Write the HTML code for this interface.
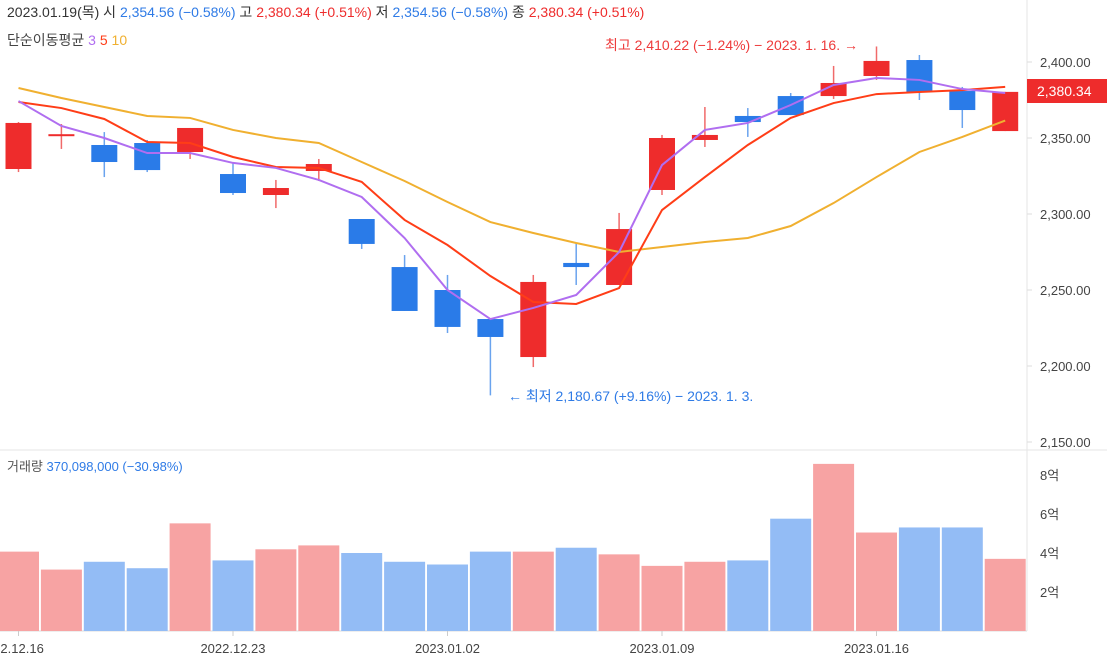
<!DOCTYPE html>
<html><head><meta charset="utf-8"><style>
body{margin:0;background:#fff;width:1107px;height:661px;overflow:hidden;font-family:"Liberation Sans","Noto Sans CJK KR",sans-serif}
svg text{font-family:"Liberation Sans","Noto Sans CJK KR",sans-serif}
</style></head><body>
<svg id="chart" width="1107" height="661" xmlns="http://www.w3.org/2000/svg">
<g id="header">
<text x="7" y="17" font-size="14" fill="#333">2023.01.19(목)  시 <tspan fill="#2f7be6">2,354.56 (−0.58%)</tspan> 고 <tspan fill="#ee2c2c">2,380.34 (+0.51%)</tspan> 저 <tspan fill="#2f7be6">2,354.56 (−0.58%)</tspan> 종 <tspan fill="#ee2c2c">2,380.34 (+0.51%)</tspan></text>
<text x="7" y="45" font-size="14" fill="#444">단순이동평균 <tspan fill="#b06ef0">3</tspan> <tspan fill="#ff3d17">5</tspan> <tspan fill="#f0b030">10</tspan></text>
<text x="7" y="471" font-size="13" fill="#555">거래량 <tspan fill="#2f7be6">370,098,000 (−30.98%)</tspan></text>
</g>
<line x1="1027" y1="0" x2="1027" y2="631" stroke="#e6e6e6"/>
<line x1="0" y1="450" x2="1107" y2="450" stroke="#e6e6e6"/>
<line x1="0" y1="631" x2="1027" y2="631" stroke="#ddd"/>
<g id="vol"></g><g id="candles"></g><g id="mas"></g><g id="axes"></g>
<text x="858" y="50" font-size="14" fill="#ee3b3b" text-anchor="end">최고 2,410.22 (−1.24%) − 2023. 1. 16. →</text>
<text x="508" y="401" font-size="14" fill="#2f7be6">← 최저 2,180.67 (+9.16%) − 2023. 1. 3.</text>
<rect x="1027" y="79" width="80" height="24" fill="#ee2c2c"/>
<text x="1037" y="96" font-size="14" fill="#fff">2,380.34</text>
</svg>
<script>
const opens=[2329.6,2352,2345.4,2346.7,2340.8,2326.3,2312.5,2328.3,2296.7,2265.1,2250,2230.9,2205.9,2267.8,2253.3,2315.8,2348.7,2364.5,2377.6,2377.6,2390.8,2401.3,2380.9,2354.56];
const highs=[2360.5,2359.2,2353.9,2348.7,2356.6,2333.6,2322.4,2336.2,2296.7,2273,2259.9,2230.9,2259.9,2280.9,2300.7,2352,2370.4,2369.7,2379.6,2397.4,2410.22,2404.6,2383.6,2380.34];
const lows=[2327.6,2342.8,2324.3,2327.6,2336.2,2312.5,2303.9,2321.7,2277,2236.2,2221.7,2180.67,2199.3,2253.3,2253.3,2312.5,2344.1,2350.7,2365.1,2375.7,2388.2,2375,2356.6,2354.56];
const closes=[2359.9,2352.5,2334.2,2328.9,2356.6,2313.8,2317.1,2332.9,2280.3,2236.2,2225.7,2219.1,2255.3,2265.1,2290.1,2350,2352,2360.5,2365.1,2386.2,2400.7,2380.3,2368.4,2380.34];
const ma3=[2374.3,2357.9,2350,2340.1,2340.1,2333.6,2330.3,2322.4,2311.2,2284.2,2250,2230.9,2238.2,2246.7,2275,2332.2,2355.3,2359.9,2371.7,2384.9,2389.5,2388.2,2382.2,2379.6];
const ma5=[2373.7,2369.7,2362.5,2347.4,2346.7,2337.5,2330.9,2330.3,2321.1,2296.1,2279.6,2259.2,2242.1,2240.8,2251.3,2302.6,2324.3,2345.4,2363.2,2373,2378.9,2380.3,2381.5,2383.6];
const ma10=[2382.9,2376.3,2370.4,2364.5,2363.2,2355.3,2350,2346.7,2334.2,2321.7,2307.9,2294.7,2287.5,2280.9,2275,2278.3,2281.6,2284.2,2292.1,2307.2,2324.3,2340.8,2350.7,2361.5];
const volumes=[4.07,3.15,3.55,3.22,5.52,3.62,4.19,4.39,4.0,3.55,3.41,4.07,4.07,4.27,3.93,3.34,3.55,3.62,5.76,8.57,5.05,5.31,5.31,3.70];
const priceTicks=[2400,2350,2300,2250,2200,2150];
const volTicks=[2,4,6,8];
const dateLabels=["22.12.16","2022.12.23","2023.01.02","2023.01.09","2023.01.16"];
const dateIdx=[0,5,10,15,20];
const NS="http://www.w3.org/2000/svg";
const X=i=>18.5+42.9*i;
const Y=p=>62+(2400-p)*1.52;
const VY=v=>631-v*19.5;
function mk(tag,attrs,parent){const e=document.createElementNS(NS,tag);for(const k in attrs)e.setAttribute(k,attrs[k]);parent.appendChild(e);return e;}
const gv=document.getElementById('vol'),gc=document.getElementById('candles'),gm=document.getElementById('mas'),ga=document.getElementById('axes');
volumes.forEach((v,i)=>{const up=closes[i]>=opens[i];
const r=mk('rect',{x:X(i)-20.5,y:VY(v),width:41,height:631-VY(v),fill:up?'#f7a3a3':'#93bcf5'},gv);

});
opens.forEach((o,i)=>{const c=closes[i],up=c>=o,col=up?'#ee2c2c':'#2a7be8';
const w=mk('line',{x1:X(i),x2:X(i),y1:Y(highs[i]),y2:Y(lows[i]),stroke:up?'#f06a6a':'#6aa3ee','stroke-width':1.5},gc);


const t=Math.min(Y(o),Y(c)),h=Math.max(Math.abs(Y(o)-Y(c)),2);
const b=mk('rect',{x:X(i)-13,y:t,width:26,height:h,fill:col},gc);

});
[[ma10,'#f0b030','ma10-line'],[ma5,'#ff3d17','ma5-line'],[ma3,'#b06ef0','ma3-line']].forEach(([a,col,n])=>{
const p=mk('polyline',{points:a.map((v,i)=>X(i)+','+Y(v)).join(' '),fill:'none',stroke:col,'stroke-width':2},gm);

});
priceTicks.forEach(p=>{mk('line',{x1:1027,x2:1032,y1:Y(p),y2:Y(p),stroke:'#ddd'},ga);
const t=mk('text',{x:1040,y:Y(p)+5,'font-size':13,fill:'#444'},ga);t.textContent=p.toLocaleString('en-US',{minimumFractionDigits:2});

});
volTicks.forEach(v=>{const t=mk('text',{x:1040,y:VY(v)+5,'font-size':13,fill:'#444'},ga);t.textContent=v+'억';

});
dateLabels.forEach((d,k)=>{const x=X(dateIdx[k]);mk('line',{x1:x,x2:x,y1:631,y2:636,stroke:'#ccc'},ga);
const t=mk('text',{x:x,y:653,'font-size':13,fill:'#444','text-anchor':'middle'},ga);t.textContent=d;

});
</script>
</body></html>
